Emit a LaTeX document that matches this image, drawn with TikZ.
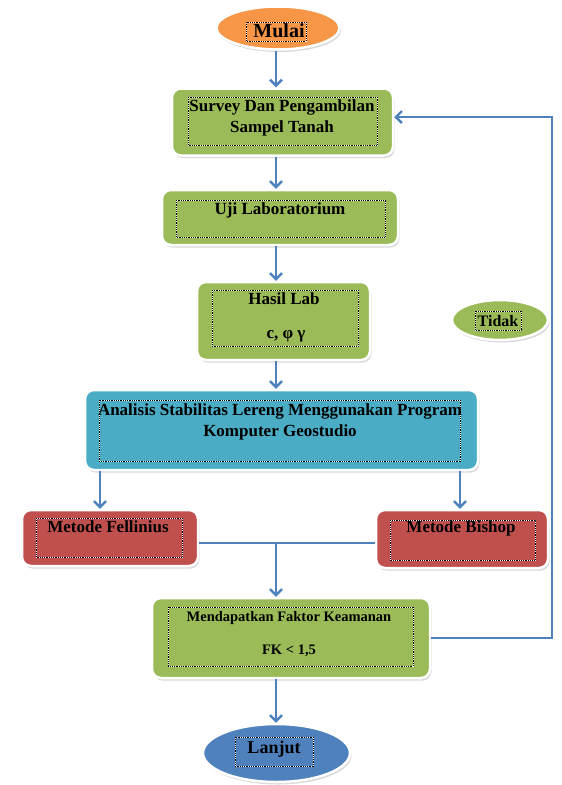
\documentclass[tikz,border=0pt]{standalone}
\usepackage{fontspec}
\setmainfont{Liberation Serif}
\usetikzlibrary{arrows.meta,shadows,shapes.geometric}
\definecolor{orangefill}{HTML}{F79646}
\definecolor{greenfill}{HTML}{9BBB59}
\definecolor{cyanfill}{HTML}{4BACC6}
\definecolor{redfill}{HTML}{C0504D}
\definecolor{flowblue}{HTML}{4F81BD}

\begin{document}
\begin{tikzpicture}[x=1pt,y=-1pt,
  box/.style={draw=white, line width=2.5pt, rounded corners=9pt, drop shadow={shadow xshift=1.5pt,shadow yshift=-2.5pt,opacity=0.3,fill=gray}},
  oval/.style={ellipse, draw=white, line width=2.5pt, drop shadow={shadow xshift=1.5pt,shadow yshift=-2.5pt,opacity=0.3,fill=gray}},
  dotframe/.style={preaction={draw=white, line width=0.9pt}, draw=black, line width=0.9pt, dash pattern=on 0.9pt off 0.9pt},
  caption/.style={font=\fontsize{17}{21}\selectfont\bfseries, align=center, inner sep=0pt},
  flow/.style={draw=flowblue, line width=2.4pt, -{Straight Barb[length=6pt,width=12pt]}},
  link/.style={draw=flowblue, line width=2.4pt}]
\useasboundingbox (0,0) rectangle (562,785);
% the spine of the chart and the merge point
\coordinate (spine) at (276,0);
\coordinate (merge) at (276,543);
\coordinate (loopright) at (552,117);
% start
\node[oval, fill=orangefill, minimum width=123pt, minimum height=43pt] (mulai) at (278,28) {};
\draw[dotframe] (246,22) rectangle (306,41);
\node[caption, font=\fontsize{20}{24}\selectfont\bfseries] (mulaitext) at (279,31) {Mulai};
% survey
\node[box, fill=greenfill, minimum width=221pt, minimum height=67pt] (survey) at (282.5,122) {};
\draw[dotframe] (188,97) rectangle (377,145);
\node[caption] (surveytext) at (282,118) {Survey Dan Pengambilan\\Sampel Tanah};
% laboratory test
\node[box, fill=greenfill, minimum width=236pt, minimum height=55pt] (uji) at (280,217.5) {};
\draw[dotframe] (176,200) rectangle (385,237);
\node[caption] (ujitext) at (280,210) {Uji Laboratorium};
% lab results
\node[box, fill=greenfill, minimum width=173pt, minimum height=78pt] (hasil) at (283.5,321) {};
\draw[dotframe] (212,290) rectangle (358,346);
\node[caption] (hasiltext) at (284,299) {Hasil Lab};
\node[caption] (paramtext) at (286,336) {c, φ γ};
% analysis
\node[box, fill=cyanfill, minimum width=393pt, minimum height=80pt] (analisis) at (281.5,430) {};
\draw[dotframe] (99,400) rectangle (460,461);
\node[caption] (analisistext) at (280,422) {Analisis Stabilitas Lereng Menggunakan Program\\Komputer Geostudio};
% the two methods
\node[box, fill=redfill, minimum width=176pt, minimum height=56pt] (fellinius) at (110,538) {};
\draw[dotframe] (36,518) rectangle (182,557);
\node[caption] (fellinitext) at (108,527) {Metode Fellinius};
\node[box, fill=redfill, minimum width=172pt, minimum height=58pt] (bishop) at (462,539) {};
\draw[dotframe] (390,520) rectangle (535,560);
\node[caption] (bishoptext) at (461,528) {Metode Bishop};
% safety factor
\node[box, fill=greenfill, minimum width=278pt, minimum height=80pt] (fk) at (291,638) {};
\draw[dotframe] (168,607) rectangle (413,666);
\node[caption, font=\fontsize{14.5}{17}\selectfont\bfseries] (fktext) at (289,618) {Mendapatkan Faktor Keamanan};
\node[caption, font=\fontsize{14.5}{17}\selectfont\bfseries] (fkvalue) at (289,651) {FK < 1,5};
% end
\node[oval, fill=flowblue, minimum width=147pt, minimum height=58pt] (lanjut) at (276.5,753) {};
\draw[dotframe] (235,737) rectangle (313,766);
\node[caption, font=\fontsize{18}{21}\selectfont\bfseries] (lanjuttext) at (274,749) {Lanjut};
% no
\node[oval, fill=greenfill, minimum width=96pt, minimum height=40pt] (tidak) at (500,320) {};
\draw[dotframe] (475,311) rectangle (521,330);
\node[caption, font=\fontsize{16}{19}\selectfont\bfseries] (tidaktext) at (498,321) {Tidak};
% connectors
\draw[flow] (mulai.south -| spine) -- (survey.north -| spine);
\draw[flow] (survey.south -| spine) -- (uji.north -| spine);
\draw[flow] (uji.south -| spine) -- (hasil.north -| spine);
\draw[flow] (hasil.south -| spine) -- (analisis.north -| spine);
\draw[flow] (analisis.south -| 100,0) -- (fellinius.north -| 100,0);
\draw[flow] (analisis.south -| 460,0) -- (bishop.north -| 460,0);
\draw[link] (fellinius.east |- merge) -- (bishop.west |- merge);
\draw[flow] (merge) -- (fk.north -| merge);
\draw[flow] (fk.south -| spine) -- (lanjut.north -| spine);
% back to the survey when FK < 1,5
\draw[flow] (fk.east) -- (fk.east -| loopright) -- (loopright) -- (survey.east |- loopright);
\end{tikzpicture}
\end{document}
